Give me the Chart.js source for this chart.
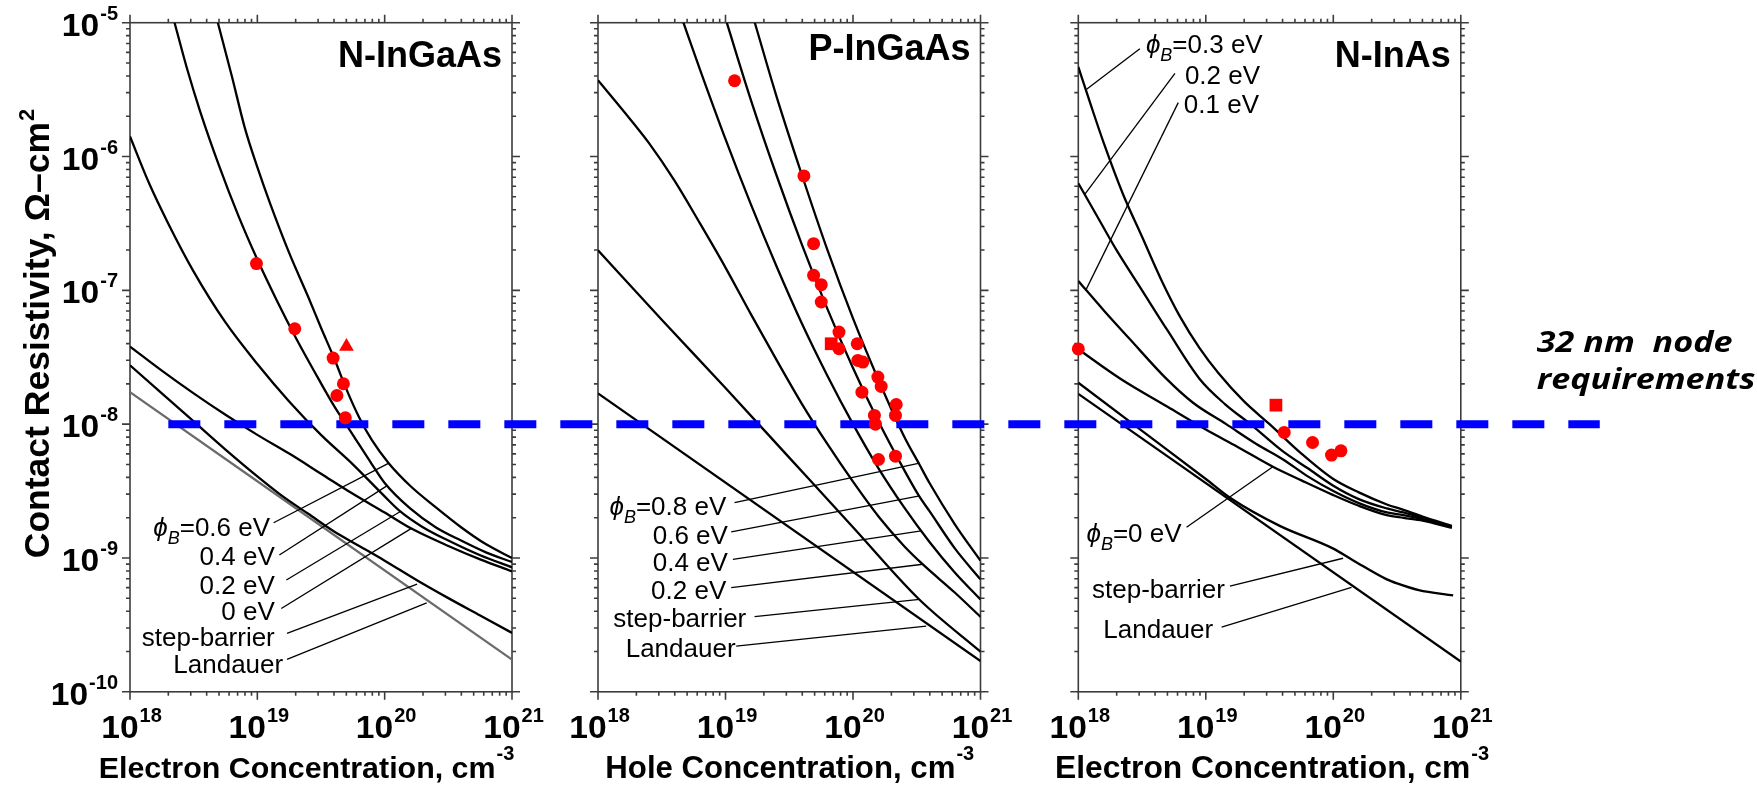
<!DOCTYPE html>
<html>
<head>
<meta charset="utf-8">
<script src="https://cdn.jsdelivr.net/npm/chart.js@4.4.1/dist/chart.umd.min.js"></script>
<style>
  html, body { margin: 0; padding: 0; background: #fff; }
  #wrap { position: relative; width: 1757px; height: 785px; overflow: hidden; background: #fff; }
  #wrap canvas { position: absolute; left: 0; top: 0; }
</style>
</head>
<body>
<div id="wrap">
  <canvas id="c1" width="1757" height="785"></canvas>
  <canvas id="c2" width="1757" height="785"></canvas>
  <canvas id="c3" width="1757" height="785"></canvas>
</div>
<script>
// All curve and marker values are [log10 concentration (cm^-3), log10 contact resistivity (Ohm-cm^2)].

// ---------- axis ticks ----------
const X_DECADES = [18, 19, 20, 21];
const Y_DECADES = [-10, -9, -8, -7, -6, -5];

// ---------- N-InGaAs ----------
const nInGaAs_phi06 = [[18.69,-5.0],[18.8,-5.4],[18.9,-5.78],[19.0,-6.08],[19.1,-6.35],[19.25,-6.72],[19.4,-7.05],[19.5,-7.28],[19.6,-7.5],[19.7,-7.74],[19.8,-7.95],[19.9,-8.12],[20.03,-8.29],[20.2,-8.46],[20.4,-8.62],[20.6,-8.77],[20.8,-8.9],[21.0,-9.0]];
const nInGaAs_phi04 = [[18.35,-5.0],[18.45,-5.35],[18.55,-5.66],[18.7,-6.07],[18.85,-6.44],[19.0,-6.77],[19.15,-7.07],[19.3,-7.35],[19.45,-7.61],[19.6,-7.86],[19.75,-8.08],[19.9,-8.3],[20.0,-8.44],[20.2,-8.63],[20.4,-8.77],[20.6,-8.87],[20.8,-8.96],[21.0,-9.03]];
const nInGaAs_phi02 = [[18.0,-5.85],[18.15,-6.2],[18.3,-6.5],[18.5,-6.86],[18.75,-7.24],[19.0,-7.55],[19.25,-7.83],[19.5,-8.08],[19.75,-8.3],[20.0,-8.54],[20.12,-8.65],[20.3,-8.77],[20.5,-8.87],[20.75,-8.98],[21.0,-9.07]];
const nInGaAs_phi00 = [[18.0,-7.42],[18.25,-7.6],[18.5,-7.77],[18.75,-7.93],[19.0,-8.08],[19.25,-8.22],[19.5,-8.37],[19.75,-8.52],[20.0,-8.66],[20.21,-8.78],[20.5,-8.91],[20.75,-9.01],[21.0,-9.1]];
const nInGaAs_step = [[18.0,-7.56],[18.25,-7.77],[18.5,-7.98],[18.75,-8.19],[19.0,-8.39],[19.2,-8.54],[19.4,-8.67],[19.6,-8.8],[19.8,-8.91],[20.0,-9.02],[20.26,-9.17],[20.5,-9.3],[20.75,-9.43],[21.0,-9.56]];
const nInGaAs_landauer = [[18.0,-7.76],[21.0,-9.76]];
const nInGaAs_expCircles = [[18.993,-6.8],[19.294,-7.287],[19.595,-7.506],[19.676,-7.698],[19.625,-7.786],[19.691,-7.953]];
const nInGaAs_expTriangles = [[19.7,-7.42]];

// ---------- P-InGaAs ----------
const pInGaAs_phi08 = [[19.23,-5.0],[19.4,-5.55],[19.6,-6.14],[19.8,-6.7],[20.0,-7.21],[20.2,-7.67],[20.4,-8.09],[20.52,-8.3],[20.6,-8.44],[20.8,-8.75],[21.0,-9.02]];
const pInGaAs_phi06 = [[19.01,-5.0],[19.2,-5.58],[19.4,-6.14],[19.6,-6.66],[19.8,-7.14],[20.0,-7.58],[20.2,-7.98],[20.4,-8.34],[20.52,-8.54],[20.6,-8.65],[20.8,-8.93],[21.0,-9.16]];
const pInGaAs_phi04 = [[18.67,-5.0],[18.8,-5.35],[19.0,-5.87],[19.2,-6.36],[19.4,-6.82],[19.6,-7.25],[19.8,-7.64],[20.0,-8.0],[20.2,-8.33],[20.4,-8.62],[20.6,-8.88],[20.8,-9.11],[21.0,-9.31]];
const pInGaAs_phi02 = [[18.0,-5.43],[18.2,-5.66],[18.4,-5.9],[18.6,-6.18],[18.8,-6.5],[19.0,-6.83],[19.2,-7.18],[19.4,-7.52],[19.6,-7.85],[19.8,-8.15],[20.0,-8.43],[20.2,-8.69],[20.4,-8.91],[20.55,-9.05],[20.8,-9.26],[21.0,-9.44]];
const pInGaAs_step = [[18.0,-6.7],[18.5,-7.22],[19.0,-7.73],[19.5,-8.25],[20.0,-8.77],[20.52,-9.31],[21.0,-9.7]];
const pInGaAs_landauer = [[18.0,-7.77],[21.0,-9.77]];
const pInGaAs_expCircles = [[19.071,-5.434],[19.615,-6.145],[19.691,-6.651],[19.691,-6.888],[19.751,-6.958],[19.751,-7.087],[19.89,-7.312],[19.89,-7.436],[20.033,-7.399],[20.038,-7.524],[20.077,-7.536],[20.195,-7.648],[20.221,-7.718],[20.07,-7.761],[20.339,-7.853],[20.168,-7.935],[20.176,-8.0],[20.333,-7.935],[20.2,-8.264],[20.333,-8.239]];
const pInGaAs_expSquares = [[19.829,-7.399]];

// ---------- N-InAs ----------
const nInAs_phi03 = [[18.0,-5.33],[18.1,-5.62],[18.2,-5.9],[18.35,-6.28],[18.5,-6.6],[18.65,-6.92],[18.8,-7.2],[18.95,-7.43],[19.1,-7.62],[19.3,-7.83],[19.5,-8.0],[19.75,-8.22],[20.0,-8.41],[20.2,-8.51],[20.42,-8.6],[20.55,-8.64],[20.7,-8.69],[20.93,-8.76]];
const nInAs_phi02 = [[18.0,-6.2],[18.15,-6.45],[18.3,-6.7],[18.5,-7.0],[18.7,-7.3],[18.95,-7.66],[19.15,-7.85],[19.35,-8.0],[19.6,-8.2],[19.8,-8.33],[20.0,-8.46],[20.2,-8.56],[20.42,-8.63],[20.55,-8.66],[20.7,-8.7],[20.93,-8.765]];
const nInAs_phi01 = [[18.0,-6.93],[18.2,-7.15],[18.4,-7.36],[18.69,-7.66],[18.9,-7.84],[19.16,-8.0],[19.4,-8.15],[19.6,-8.26],[19.8,-8.39],[20.0,-8.5],[20.2,-8.59],[20.42,-8.66],[20.55,-8.68],[20.7,-8.71],[20.93,-8.77]];
const nInAs_phi00 = [[18.0,-7.44],[18.33,-7.66],[18.7,-7.87],[19.0,-8.04],[19.25,-8.17],[19.53,-8.32],[19.75,-8.42],[20.0,-8.53],[20.2,-8.61],[20.42,-8.68],[20.55,-8.7],[20.7,-8.72],[20.93,-8.775]];
const nInAs_step = [[18.0,-7.69],[18.5,-8.05],[19.0,-8.41],[19.19,-8.55],[19.58,-8.76],[20.0,-8.93],[20.16,-9.02],[20.42,-9.16],[20.5,-9.19],[20.67,-9.24],[20.94,-9.28]];
const nInAs_landauer = [[18.0,-7.774],[21.0,-9.774]];
const nInAs_expCircles = [[18.0,-7.438],[19.615,-8.062],[19.837,-8.137],[19.986,-8.231],[20.06,-8.199]];
const nInAs_expSquares = [[19.55,-7.858]];

// 32 nm node requirement: contact resistivity level, drawn from 2e18 cm^-3 on the first panel across all three
const REQUIREMENT_RHO = 1e-8;
const REQUIREMENT_FROM_N = 2e18;
const REQUIREMENT_TO_N = 1.23e22;

// ---------- helpers ----------
const FONT = '"Liberation Sans", Arial, Helvetica, sans-serif';
const pts = arr => arr.map(([u, v]) => ({ x: Math.pow(10, u), y: Math.pow(10, v) }));
const P = ([u, v]) => [Math.pow(10, u), Math.pow(10, v)];

function textWidth(ctx, s, font, sx = 1) {
  ctx.save(); ctx.font = font; const w = ctx.measureText(s).width * sx; ctx.restore(); return w;
}
function drawText(ctx, s, x, y, font, sx = 1) {
  ctx.save(); ctx.font = font; ctx.textAlign = 'left'; ctx.textBaseline = 'alphabetic';
  ctx.translate(x, y); ctx.scale(sx, 1); ctx.fillText(s, 0, 0); ctx.restore();
}

const TICK_MAIN = `bold 32px ${FONT}`;
const TICK_EXP = `bold 20px ${FONT}`;
const TICK_SX = 1.05;
function powerLabel(ctx, exp, x, yBase, align) {
  const w1 = textWidth(ctx, '10', TICK_MAIN, TICK_SX);
  const w2 = textWidth(ctx, exp, TICK_EXP);
  const x0 = align === 'center' ? x - (w1 + w2) / 2 : x - (w1 + w2);
  drawText(ctx, '10', x0, yBase, TICK_MAIN, TICK_SX);
  drawText(ctx, exp, x0 + w1 + 1, yBase - 16, TICK_EXP);
}

// rich annotation text: parts of [string, kind] where kind n = normal, i = italic, s = italic subscript
const ANN_SIZE = 26;
function partFont(kind) {
  if (kind === 'i') return `italic ${ANN_SIZE}px ${FONT}`;
  if (kind === 's') return `italic 18px ${FONT}`;
  return `${ANN_SIZE}px ${FONT}`;
}
function richWidth(ctx, parts) {
  return parts.reduce((w, [s, k]) => w + textWidth(ctx, s, partFont(k)), 0);
}
function drawRich(ctx, parts, x, yMid, align) {
  const total = richWidth(ctx, parts);
  let cx = align === 'right' ? x - total : x;
  const base = yMid + 9.5;
  for (const [s, k] of parts) {
    drawText(ctx, s, cx, k === 's' ? base + 8 : base, partFont(k));
    cx += textWidth(ctx, s, partFont(k));
  }
}
const PHI = '\u03D5';

// ---------- annotations (anchor and leader ends in [log10 n, log10 rho]) ----------
const nInGaAs_notes = [
  { parts: [[PHI,'i'],['B','s'],['=0.6 eV','n']], at: [19.10,-8.767], align: 'right', leader: [[19.128,-8.737],[20.029,-8.293]] },
  { parts: [['0.4 eV','n']], at: [19.137,-8.984], align: 'right', leader: [[19.173,-8.978],[20.014,-8.463]] },
  { parts: [['0.2 eV','n']], at: [19.137,-9.195], align: 'right', leader: [[19.228,-9.165],[20.12,-8.655]] },
  { parts: [['0 eV','n']], at: [19.137,-9.392], align: 'right', leader: [[19.188,-9.377],[20.21,-8.779]] },
  { parts: [['step-barrier','n']], at: [19.137,-9.584], align: 'right', leader: [[19.233,-9.564],[20.255,-9.195]] },
  { parts: [['Landauer','n']], at: [19.203,-9.788], align: 'right', leader: [[19.233,-9.758],[20.33,-9.335]] },
];
const pInGaAs_notes = [
  { parts: [[PHI,'i'],['B','s'],['=0.8 eV','n']], at: [19.006,-8.606], align: 'right', leader: [[19.071,-8.586],[20.522,-8.292]] },
  { parts: [['0.6 eV','n']], at: [19.019,-8.823], align: 'right', leader: [[19.045,-8.805],[20.522,-8.536]] },
  { parts: [['0.4 eV','n']], at: [19.019,-9.03], align: 'right', leader: [[19.058,-9.01],[20.535,-8.798]] },
  { parts: [['0.2 eV','n']], at: [19.006,-9.239], align: 'right', leader: [[19.045,-9.222],[20.548,-9.047]] },
  { parts: [['step-barrier','n']], at: [19.163,-9.446], align: 'right', leader: [[19.228,-9.439],[20.522,-9.309]] },
  { parts: [['Landauer','n']], at: [19.079,-9.671], align: 'right', leader: [[19.084,-9.658],[20.574,-9.509]] },
];
const nInAs_notes = [
  { parts: [[PHI,'i'],['B','s'],['=0.3 eV','n']], at: [18.53,-5.154], align: 'left', leader: [[18.483,-5.194],[18.065,-5.498]] },
  { parts: [['0.2 eV','n']], at: [18.836,-5.386], align: 'left', leader: [[18.758,-5.378],[18.052,-6.281]] },
  { parts: [['0.1 eV','n']], at: [18.828,-5.602], align: 'left', leader: [[18.784,-5.597],[18.057,-7.002]] },
  { parts: [[PHI,'i'],['B','s'],['=0 eV','n']], at: [18.81,-8.813], align: 'right', leader: [[18.849,-8.771],[19.529,-8.316]] },
  { parts: [['step-barrier','n']], at: [19.15,-9.231], align: 'right', leader: [[19.189,-9.211],[20.077,-9.002]] },
  { parts: [['Landauer','n']], at: [19.058,-9.53], align: 'right', leader: [[19.124,-9.517],[20.143,-9.219]] },
];

const charts = [];

function lineSet(data, color = '#000', width = 2.3) {
  return { type: 'line', data: pts(data), borderColor: color, borderWidth: width, pointRadius: 0,
           fill: false, cubicInterpolationMode: 'monotone', order: 2 };
}
function markerSet(data, style, radius) {
  return { type: 'scatter', data: pts(data), pointStyle: style, pointRadius: radius, pointBorderWidth: 0,
           pointBackgroundColor: '#ff0000', borderColor: '#ff0000', backgroundColor: '#ff0000',
           showLine: false, clip: false, order: 1, isMarker: true };
}

function drawFrame(chart) {
  const { ctx, chartArea: a, scales: { x, y } } = chart;
  ctx.save();
  ctx.strokeStyle = '#3c3c3c';
  ctx.lineWidth = 1.6;
  ctx.strokeRect(a.left, a.top, a.right - a.left, a.bottom - a.top);
  ctx.beginPath();
  for (const e of X_DECADES) {
    for (let m = 1; m <= 9; m++) {
      if (e === X_DECADES[X_DECADES.length - 1] && m > 1) break;
      const px = x.getPixelForValue(m * Math.pow(10, e));
      const L = m === 1 ? 8 : 4;
      ctx.moveTo(px, a.bottom); ctx.lineTo(px, a.bottom + L);
      ctx.moveTo(px, a.top); ctx.lineTo(px, a.top - L);
    }
  }
  for (const e of Y_DECADES) {
    for (let m = 1; m <= 9; m++) {
      if (e === Y_DECADES[Y_DECADES.length - 1] && m > 1) break;
      const py = y.getPixelForValue(m * Math.pow(10, e));
      const L = m === 1 ? 8 : 4;
      ctx.moveTo(a.left, py); ctx.lineTo(a.left - L, py);
      ctx.moveTo(a.right, py); ctx.lineTo(a.right + L, py);
    }
  }
  ctx.stroke();
  ctx.restore();
}

function drawRequirement(chart, band) {
  const first = charts[0] || chart;
  const { ctx } = chart;
  const y = first.scales.y.getPixelForValue(REQUIREMENT_RHO);
  const x0 = first.scales.x.getPixelForValue(REQUIREMENT_FROM_N);
  const x1 = chart.$panel.last ? chart.scales.x.getPixelForValue(REQUIREMENT_TO_N) : band[1];
  ctx.save();
  ctx.beginPath(); ctx.rect(band[0], 0, band[1] - band[0], chart.height); ctx.clip();
  ctx.strokeStyle = '#0000ff';
  ctx.lineWidth = 8;
  ctx.lineCap = 'butt';
  ctx.setLineDash([32, 24]);
  ctx.beginPath(); ctx.moveTo(x0, y); ctx.lineTo(x1, y); ctx.stroke();
  ctx.restore();
}

const panelPlugin = {
  id: 'panelDecor',
  beforeDraw(chart) { chart.$reqDone = false; },
  beforeDatasetsDraw(chart) { drawFrame(chart); },
  beforeDatasetDraw(chart, args) {
    const ds = chart.data.datasets[args.index];
    if (ds.isMarker && !chart.$reqDone) { drawRequirement(chart, chart.$panel.band); chart.$reqDone = true; }
  },
  afterDraw(chart) {
    const { ctx, chartArea: a, scales: { x, y } } = chart;
    const p = chart.$panel;
    if (!chart.$reqDone) { drawRequirement(chart, p.band); chart.$reqDone = true; }
    ctx.save();
    ctx.fillStyle = '#000';
    // tick labels
    for (const e of X_DECADES) powerLabel(ctx, String(e), x.getPixelForValue(Math.pow(10, e)) + 1, 738, 'center');
    if (p.yLabels) for (const e of Y_DECADES) powerLabel(ctx, String(e), a.left - 13, y.getPixelForValue(Math.pow(10, e)) + 13, 'right');
    // leader lines and labels
    ctx.strokeStyle = '#000'; ctx.lineWidth = 1.3;
    for (const n of p.notes) {
      const [a0, a1] = n.leader.map(P);
      ctx.beginPath();
      ctx.moveTo(x.getPixelForValue(a0[0]), y.getPixelForValue(a0[1]));
      ctx.lineTo(x.getPixelForValue(a1[0]), y.getPixelForValue(a1[1]));
      ctx.stroke();
      const at = P(n.at);
      drawRich(ctx, n.parts, x.getPixelForValue(at[0]), y.getPixelForValue(at[1]), n.align);
    }
    // panel title
    const tf = `bold 36px ${FONT}`;
    drawText(ctx, p.title, a.right - 10 - textWidth(ctx, p.title, tf), p.titleBase, tf);
    // x-axis title
    const xf = `bold ${p.xTitleSize}px ${FONT}`, sf = `bold 20px ${FONT}`;
    const w = textWidth(ctx, p.xTitle, xf) + textWidth(ctx, '-3', sf);
    const xs = (a.left + a.right) / 2 + p.xTitleShift - w / 2;
    drawText(ctx, p.xTitle, xs, 778, xf);
    drawText(ctx, '-3', xs + textWidth(ctx, p.xTitle, xf) + 1, 760, sf);
    // y-axis title
    if (p.yTitle) {
      const yf = `bold 35.5px ${FONT}`, ysf = `bold 22px ${FONT}`;
      const main = 'Contact Resistivity, \u03A9\u2013cm';
      const wm = textWidth(ctx, main, yf), ws = textWidth(ctx, '2', ysf);
      ctx.save();
      ctx.translate(49, 334);
      ctx.rotate(-Math.PI / 2);
      drawText(ctx, main, -(wm + ws) / 2, 0, yf);
      drawText(ctx, '2', -(wm + ws) / 2 + wm + 1, -15, ysf);
      ctx.restore();
    }
    // requirement caption
    if (p.last) {
      const cf = `italic bold 28px "Open Sans", ${FONT}`;
      const ry = y.getPixelForValue(REQUIREMENT_RHO);
      drawText(ctx, '32 nm  node', a.right + 76, ry - 72, cf, 1.22);
      drawText(ctx, 'requirements', a.right + 76, ry - 35, cf, 1.22);
    }
    ctx.restore();
  }
};

function makePanel(id, panel, datasets) {
  const W = 1757, H = 785, TOP = 22.7, BOTTOM = 691.8;
  const chart = new Chart(document.getElementById(id), {
    data: { datasets },
    options: {
      responsive: false, animation: false, devicePixelRatio: 1,
      layout: { padding: { left: panel.left, right: W - panel.right, top: TOP, bottom: H - BOTTOM } },
      plugins: { legend: { display: false }, tooltip: { enabled: false } },
      events: [],
      scales: {
        x: { type: 'logarithmic', min: 1e18, max: 1e21, display: false },
        y: { type: 'logarithmic', min: 1e-10, max: 1e-5, display: false }
      }
    },
    plugins: [{ id: 'panelSetup', beforeInit(c) { c.$panel = panel; } }, panelPlugin]
  });
  charts.push(chart);
  return chart;
}

makePanel('c1', {
  left: 130, right: 512, band: [0, 555], title: 'N-InGaAs', titleBase: 67,
  xTitle: 'Electron Concentration, cm', xTitleSize: 30.4, xTitleShift: -15, yLabels: true, yTitle: true,
  notes: nInGaAs_notes
}, [
  markerSet(nInGaAs_expCircles, 'circle', 6.5),
  markerSet(nInGaAs_expTriangles, 'triangle', 8.5),
  lineSet(nInGaAs_phi06), lineSet(nInGaAs_phi04), lineSet(nInGaAs_phi02), lineSet(nInGaAs_phi00),
  lineSet(nInGaAs_step), lineSet(nInGaAs_landauer, '#6b6b6b', 2.2)
]);

makePanel('c2', {
  left: 598, right: 980.5, band: [555, 1030], title: 'P-InGaAs', titleBase: 60,
  xTitle: 'Hole Concentration, cm', xTitleSize: 31.2, xTitleShift: 0, notes: pInGaAs_notes
}, [
  markerSet(pInGaAs_expCircles, 'circle', 6.5),
  markerSet(pInGaAs_expSquares, 'rect', 9),
  lineSet(pInGaAs_phi08), lineSet(pInGaAs_phi06), lineSet(pInGaAs_phi04), lineSet(pInGaAs_phi02),
  lineSet(pInGaAs_step), lineSet(pInGaAs_landauer)
]);

makePanel('c3', {
  left: 1078.3, right: 1460.8, band: [1030, 1757], title: 'N-InAs', titleBase: 67, last: true,
  xTitle: 'Electron Concentration, cm', xTitleSize: 31.8, xTitleShift: 2, notes: nInAs_notes
}, [
  markerSet(nInAs_expCircles, 'circle', 6.5),
  markerSet(nInAs_expSquares, 'rect', 9),
  lineSet(nInAs_phi03), lineSet(nInAs_phi02), lineSet(nInAs_phi01), lineSet(nInAs_phi00),
  lineSet(nInAs_step), lineSet(nInAs_landauer)
]);
</script>
</body>
</html>
